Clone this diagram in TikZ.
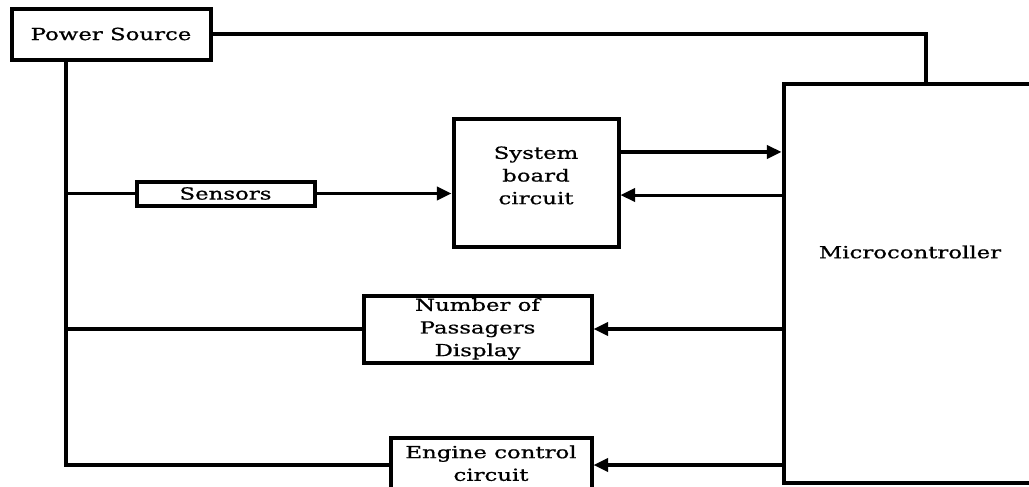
\documentclass[tikz,border=0pt]{standalone}
\usepackage{fontspec}
\setmainfont{DejaVu Serif}[FakeStretch=1.37,FakeBold=0.8]
\usetikzlibrary{arrows.meta}
\begin{document}
\begin{tikzpicture}[x=0.75pt,y=-0.75pt,
  lbl/.style={font=\fontsize{12.5}{17}\selectfont, align=center},
  box/.style={draw, line width=3pt, inner sep=0pt, lbl},
  wire/.style={line width=2.3pt},
  feed/.style={wire, -{Triangle[length=11pt,width=10pt]}}]
\useasboundingbox (0,0) rectangle (1029,486);
\clip (0,0) rectangle (1029,486);
\fill[white] (0,0) rectangle (1029,486);

% blocks
\node[box, minimum width=149.25pt, minimum height=38.25pt] (ps)   at (111,34)    {Power Source};
\node[box, minimum width=133.5pt,  minimum height=18pt]    (sens) at (225.5,193.5) {Sensors};
\node[box, minimum width=123.75pt, minimum height=96pt]    (sb)   at (536,182.5) {};
\node[lbl, yshift=5.3pt] (sbtext) at (sb.center) {System\\ board\\ circuit};
\node[box, minimum width=171pt,    minimum height=50.25pt] (npd)  at (477.5,329) {Number of\\ Passagers\\ Display};
\node[box, minimum width=150.75pt, minimum height=41.25pt] (eng)  at (491,465)   {};
\node[lbl, yshift=1.3pt] (engtext) at (eng.center) {Engine control\\ circuit};
\node[box, minimum width=191.25pt, minimum height=299.25pt] (mc)  at (911,283)   {};
\node[lbl] (mctext) at (910,252) {Microcontroller};

% supply rails
\coordinate (bus) at (66,0);
\coordinate (drop) at (926,0);
\draw[wire] (ps.east) -| (mc.north -| drop);
\draw[wire] (ps.south -| bus) |- (eng.west);
\draw[wire] (sens.west -| bus) -- (sens.west);
\draw[wire] (npd.west -| bus) -- (npd.west);

% signal paths
\draw[feed] (sens.east) -- (sens.east -| sb.west);
\draw[feed] ([yshift=22.9pt]sb.east) coordinate (up) -- (up -| mc.west);
\coordinate (down) at ([yshift=-9.4pt]sb.east);
\draw[feed] (down -| mc.west) -- (down);
\draw[feed] (mc.west |- npd.east) -- (npd.east);
\draw[feed] (mc.west |- eng.east) -- (eng.east);
\end{tikzpicture}
\end{document}
